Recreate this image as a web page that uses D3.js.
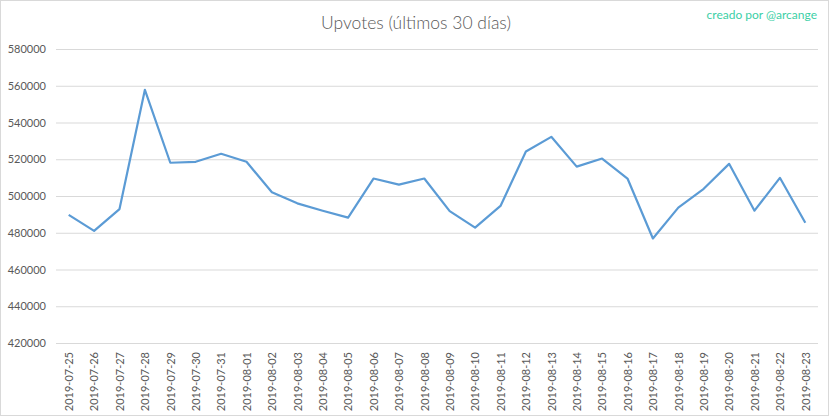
<!DOCTYPE html>
<html><head><meta charset="utf-8">
<script src="https://cdn.jsdelivr.net/npm/d3@7/dist/d3.min.js"></script>
<style>body{margin:0;background:#fff;}svg{display:block;}</style>
</head><body>
<svg id="c" width="832" height="417"></svg>
<script>
const dates = ["2019-07-25","2019-07-26","2019-07-27","2019-07-28","2019-07-29","2019-07-30","2019-07-31","2019-08-01","2019-08-02","2019-08-03","2019-08-04","2019-08-05","2019-08-06","2019-08-07","2019-08-08","2019-08-09","2019-08-10","2019-08-11","2019-08-12","2019-08-13","2019-08-14","2019-08-15","2019-08-16","2019-08-17","2019-08-18","2019-08-19","2019-08-20","2019-08-21","2019-08-22","2019-08-23"];
const upvotes = [489700,481000,492900,557800,518100,518600,523000,518600,502000,496000,492000,488200,509500,506200,509500,491800,482800,494600,524200,532200,516000,520400,509500,476900,493700,503900,517500,492000,509900,485400];
const yTicks = [420000,440000,460000,480000,500000,520000,540000,560000,580000];

const svg = d3.select("#c");
const font = "Lato, 'Open Sans', sans-serif";
svg.append("rect").attr("x",0.5).attr("y",0.5).attr("width",828).attr("height",415)
  .attr("fill","#fff").attr("stroke","#d9d9d9");

const pL=56, pR=818, pT=49, pB=343;
const x = d3.scalePoint().domain(dates).range([pL,pR]).padding(0.5);
const y = d3.scaleLinear().domain([420000,580000]).range([pB,pT]);

svg.append("g").selectAll("line").data(yTicks).join("line")
  .attr("x1",pL).attr("x2",pR).attr("y1",d=>y(d)+0.5).attr("y2",d=>y(d)+0.5)
  .attr("stroke","#d9d9d9").attr("stroke-width",1);

const yAxis = svg.append("g").attr("transform",`translate(${pL},0)`)
  .call(d3.axisLeft(y).tickValues(yTicks).tickSize(0).tickPadding(10).tickFormat(d3.format("d")));
yAxis.select(".domain").remove();
yAxis.selectAll("text").attr("font-family",font).attr("font-size","11px").attr("fill","#595959");

const xAxis = svg.append("g").attr("transform",`translate(0,${pB})`)
  .call(d3.axisBottom(x).tickSize(0).tickPadding(0));
xAxis.select(".domain").remove();
xAxis.selectAll("text").attr("font-family",font).attr("font-size","11px").attr("fill","#595959")
  .attr("text-anchor","end").attr("transform","rotate(-90)")
  .attr("x",-9).attr("y",0).attr("dy","0.35em");

svg.append("path").datum(upvotes)
  .attr("fill","none").attr("stroke","#5b9bd5").attr("stroke-width",2.2)
  .attr("stroke-linejoin","round")
  .attr("d", d3.line().x((d,i)=>x(dates[i])).y(d=>y(d)));

svg.append("text").attr("x",416).attr("y",29).attr("text-anchor","middle")
  .attr("font-family",font).attr("font-weight",300).attr("font-size","17.5px").attr("fill","#595959")
  .text("Upvotes (últimos 30 días)");
svg.append("text").attr("x",817).attr("y",19).attr("text-anchor","end")
  .attr("font-family",font).attr("font-size","12px").attr("fill","#3ccfa6")
  .text("creado por @arcange");
</script>
</body></html>
